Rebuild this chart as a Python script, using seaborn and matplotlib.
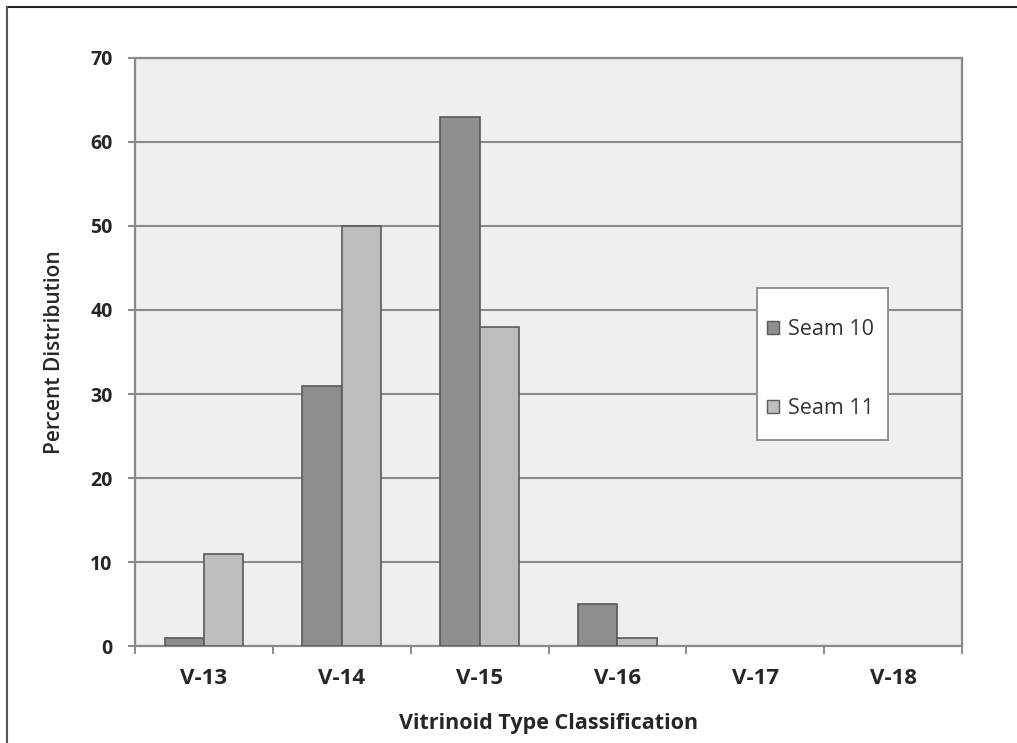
import matplotlib
matplotlib.use("Agg")
import matplotlib.pyplot as plt
from matplotlib.lines import Line2D
from matplotlib.patches import Rectangle
import numpy as np
import pandas as pd
import seaborn as sns

# Vitrinoid type distribution for the two seams
categories = ["V-13", "V-14", "V-15", "V-16", "V-17", "V-18"]
seam10 = [1, 31, 63, 5, 0, 0]
seam11 = [11, 50, 38, 1, 0, 0]
series_names = ["Seam 10", "Seam 11"]
y_ticks = [0, 10, 20, 30, 40, 50, 60, 70]

df = pd.DataFrame({
    "Type": categories * 2,
    "Percent": seam10 + seam11,
    "Seam": [series_names[0]] * len(categories) + [series_names[1]] * len(categories),
})

sns.set_theme(style="white")
plt.rcParams["font.family"] = ["Open Sans", "DejaVu Sans"]

fig = plt.figure(figsize=(10.17, 7.43), dpi=100)
ax = fig.add_axes([0.1327, 0.1305, 0.8133, 0.7915])

palette = {"Seam 10": "#8e8e8e", "Seam 11": "#bdbdbd"}
sns.barplot(data=df, x="Type", y="Percent", hue="Seam", order=categories,
            hue_order=series_names, palette=palette, width=0.57,
            edgecolor="#5a5a5a", linewidth=1.2, saturation=1, ax=ax,
            zorder=3)

# empty categories get no outline
for bar in ax.patches:
    if bar.get_height() == 0:
        bar.set_linewidth(0)

ax.set_facecolor("#efefef")
ax.set_ylim(0, 70)
ax.set_xlim(-0.5, len(categories) - 0.5)
ax.set_yticks(y_ticks)
ax.yaxis.grid(True, color="#8a8a8a", linewidth=1.5, zorder=0)
ax.set_axisbelow(True)

for sp in ax.spines.values():
    sp.set_color("#8a8a8a")
    sp.set_linewidth(1.6)

# category labels without marks; short marks between categories
ax.set_xticks(range(len(categories)))
ax.set_xticklabels(categories)
ax.set_xticks(np.arange(-0.5, len(categories), 1.0), minor=True)
ax.tick_params(axis="x", which="major", length=0, pad=16)
ax.tick_params(axis="x", which="minor", length=6, width=1.4, color="#8a8a8a",
               direction="out", bottom=True)
ax.tick_params(axis="y", length=5, width=1.4, color="#8a8a8a", direction="out",
               left=True, pad=11)

for lab in ax.get_xticklabels() + ax.get_yticklabels():
    lab.set_fontweight("bold")
    lab.set_color("#262626")
for lab in ax.get_xticklabels():
    lab.set_fontsize(16)
for lab in ax.get_yticklabels():
    lab.set_fontsize(14)

ax.set_xlabel("Vitrinoid Type Classification", fontsize=15.5, fontweight="bold",
              color="#262626", labelpad=17)
ax.set_ylabel("Percent Distribution", fontsize=15, fontweight="semibold",
              color="#262626", labelpad=18)

# legend box
ax.add_patch(Rectangle((0.752, 0.350), 0.158, 0.259, transform=ax.transAxes,
                       facecolor="white", edgecolor="#8a8a8a", linewidth=1.3,
                       zorder=4))
handles, labels = ax.get_legend_handles_labels()
leg = ax.legend(handles, labels, loc="upper left", bbox_to_anchor=(0.764, 0.556),
                frameon=False, fontsize=15.5, labelspacing=2.7,
                handlelength=0.55, handleheight=0.55, handletextpad=0.45,
                borderpad=0, borderaxespad=0)
leg.set_zorder(5)
for h in leg.legend_handles:
    h.set_edgecolor("#5a5a5a")
    h.set_linewidth(1.0)
for t in leg.get_texts():
    t.set_color("#333333")

# figure frame along the top and left edges
fig.add_artist(Line2D([0.007, 1.0], [0.991, 0.991], transform=fig.transFigure,
                      color="#222222", linewidth=1.5))
fig.add_artist(Line2D([0.007, 0.007], [0.0, 0.991], transform=fig.transFigure,
                      color="#555555", linewidth=1.5))

fig.savefig("out.png", dpi=100)
